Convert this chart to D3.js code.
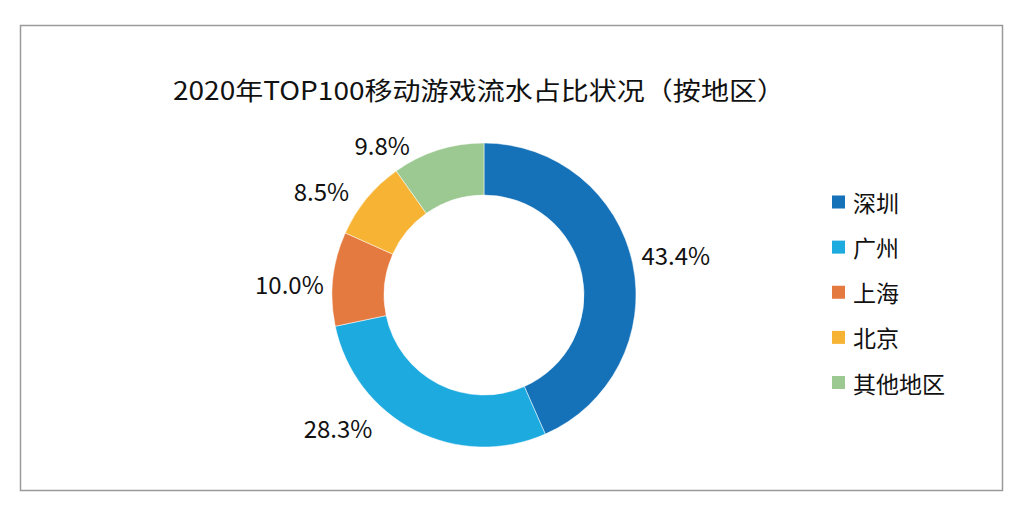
<!DOCTYPE html>
<html><head><meta charset="utf-8">
<script src="https://cdn.jsdelivr.net/npm/d3@7"></script>
<style>body{margin:0;background:#fff}svg{display:block}</style>
</head><body>
<script>
const categories = ["深圳","广州","上海","北京","其他地区"];
const values = [43.4, 28.3, 10.0, 8.5, 9.8];
const labels = ["43.4%","28.3%","10.0%","8.5%","9.8%"];
const colors = ["#1571B8","#1DAADF","#E57A40","#F6B334","#9CC991"];
const title = "2020年TOP100移动游戏流水占比状况（按地区）";

const W=1024,H=512;
const svg=d3.select("body").append("svg").attr("width",W).attr("height",H);
svg.append("rect").attr("x",20.5).attr("y",25.5).attr("width",982).attr("height",465)
  .attr("fill","#fff").attr("stroke","#9a9a9a").attr("stroke-width",1.5);

const font="'Noto Sans CJK SC','Noto Sans',sans-serif";
svg.append("text").attr("x",479).attr("y",100).attr("text-anchor","middle")
  .attr("font-family",font).attr("font-size",25).attr("fill","#111")
  .attr("textLength",612).attr("lengthAdjust","spacingAndGlyphs").text(title);

const cx=484,cy=295;
const g=svg.append("g").attr("transform",`translate(${cx},${cy})`);
const pie=d3.pie().sort(null).value(d=>d);
const arcs=pie(values);
const arc=d3.arc().innerRadius(100).outerRadius(152);
g.selectAll("path").data(arcs).join("path").attr("d",arc)
  .attr("fill",(d,i)=>colors[i]).attr("stroke","#fff").attr("stroke-width",0.5);

// label placement: mid-angle with best-fit style nudges (degrees / radius)
const angNudge=[0,20.6,-2.6,-6.8,-16.4];
const radNudge=[196,197,195,193,182];
g.selectAll("text.lbl").data(arcs).join("text").attr("class","lbl")
  .each(function(d,i){
    const a=(d.startAngle+d.endAngle)/2 + angNudge[i]*Math.PI/180;
    const r=radNudge[i];
    d3.select(this).attr("x",Math.sin(a)*r).attr("y",-Math.cos(a)*r);
  })
  .attr("text-anchor","middle").attr("dominant-baseline","central")
  .attr("font-family",font).attr("font-size",24).attr("fill","#111")
  .text((d,i)=>labels[i]);

const y=d3.scalePoint().domain(categories).range([202,382.5]);
const lg=svg.append("g");
lg.selectAll("rect").data(categories).join("rect")
  .attr("x",832).attr("y",d=>y(d)-6.5).attr("width",13).attr("height",13)
  .attr("fill",(d,i)=>colors[i]);
lg.selectAll("text").data(categories).join("text")
  .attr("x",853).attr("y",d=>y(d)).attr("dominant-baseline","central")
  .attr("font-family",font).attr("font-size",23).attr("fill","#111").text(d=>d);
</script>
</body></html>
